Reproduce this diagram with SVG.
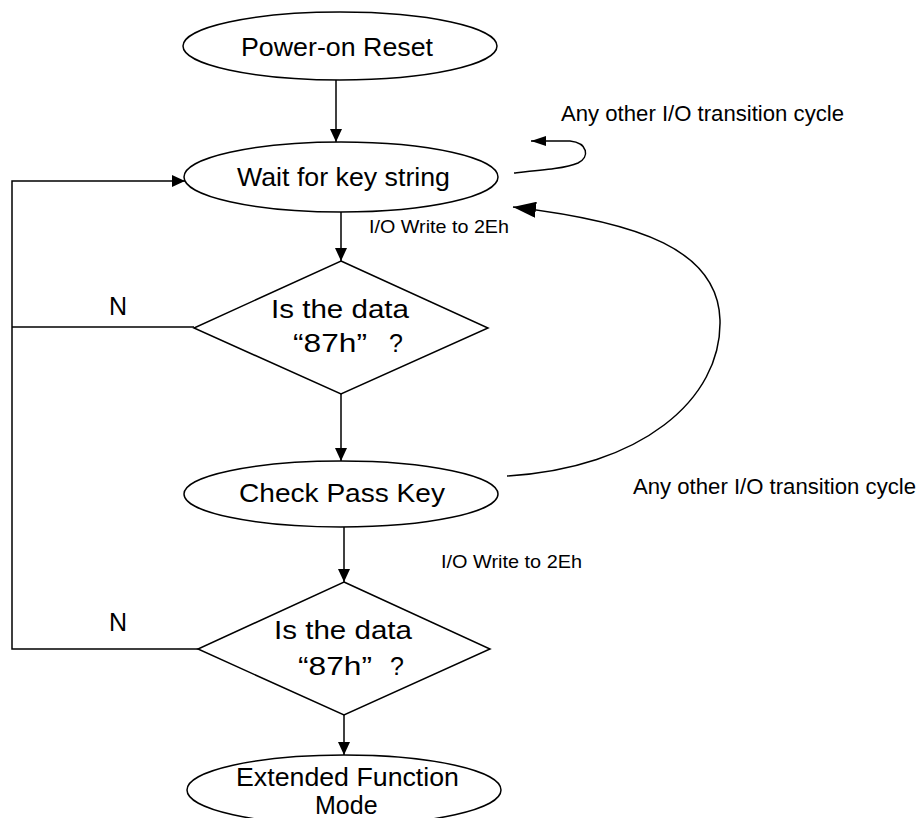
<svg xmlns="http://www.w3.org/2000/svg" width="922" height="818" viewBox="0 0 922 818">
<style>
.shape{fill:#fff;stroke:#000;stroke-width:1.5}
.line{fill:none;stroke:#000;stroke-width:1.5}
.lbl{font-family:"Liberation Sans",Arial,sans-serif;fill:#000}
.big{font-size:25px}
.small{font-size:19px}
.mid{font-size:21.5px}
</style>
<defs>
<marker id="ah" markerUnits="userSpaceOnUse" markerWidth="14" markerHeight="12" refX="13" refY="6" orient="auto"><path d="M0,0 L13,6 L0,12 z" fill="#000"/></marker>
<marker id="ahBig" markerUnits="userSpaceOnUse" markerWidth="24" markerHeight="16" refX="23" refY="8" orient="auto"><path d="M0,0 L23,8 L0,16 z" fill="#000"/></marker>
<marker id="ahSmall" markerUnits="userSpaceOnUse" markerWidth="16" markerHeight="10" refX="15" refY="5" orient="auto"><path d="M0,0 L15,5 L0,10 z" fill="#000"/></marker>
</defs>
<rect width="922" height="818" fill="#fff"/>
<g id="connectors">
<line class="line" x1="336" y1="80" x2="336" y2="142" marker-end="url(#ah)"/>
<line class="line" x1="341" y1="212" x2="341" y2="261" marker-end="url(#ah)"/>
<line class="line" x1="341" y1="394" x2="341" y2="461" marker-end="url(#ah)"/>
<line class="line" x1="344" y1="527" x2="344" y2="582" marker-end="url(#ah)"/>
<line class="line" x1="344" y1="715" x2="344" y2="755" marker-end="url(#ah)"/>
<polyline class="line" points="194,327 12,327"/>
<polyline class="line" points="198,649 12,649 12,181 185,181" marker-end="url(#ah)"/>
<path class="line" d="M507,476 C640,468 722,400 720,320 C718,250 640,222 513,207" marker-end="url(#ahBig)"/>
<path class="line" d="M514,173 C545,170 567,168 578,163 C590,157 588,143 570,141 L531,141" marker-end="url(#ahSmall)"/>
</g>
<g id="power-on-reset">
<ellipse class="shape" cx="340" cy="46" rx="157" ry="34"/>
<text class="lbl big" x="241" y="56" textLength="192" lengthAdjust="spacingAndGlyphs">Power-on Reset</text>
</g>
<g id="wait-key">
<ellipse class="shape" cx="341" cy="177" rx="157" ry="35"/>
<text class="lbl big" x="237" y="186" textLength="213" lengthAdjust="spacingAndGlyphs">Wait for key string</text>
</g>
<g id="decision-1">
<polygon class="shape" points="341,261 488,328 341,394 194,328"/>
<text class="lbl big" x="271" y="318" textLength="138" lengthAdjust="spacingAndGlyphs">Is the data</text>
<text class="lbl big" x="293" y="352" textLength="74" lengthAdjust="spacingAndGlyphs">“87h”</text>
<text class="lbl big" x="389" y="352">?</text>
</g>
<g id="check-pass-key">
<ellipse class="shape" cx="341" cy="494" rx="157" ry="33"/>
<text class="lbl big" x="239" y="502" textLength="206" lengthAdjust="spacingAndGlyphs">Check Pass Key</text>
</g>
<g id="decision-2">
<polygon class="shape" points="344,582 490,649 344,715 198,649"/>
<text class="lbl big" x="274" y="639" textLength="138" lengthAdjust="spacingAndGlyphs">Is the data</text>
<text class="lbl big" x="298" y="675" textLength="74" lengthAdjust="spacingAndGlyphs">“87h”</text>
<text class="lbl big" x="390" y="675">?</text>
</g>
<g id="extended-mode">
<ellipse class="shape" cx="344" cy="790" rx="157" ry="35"/>
<text class="lbl big" x="236" y="786" textLength="223" lengthAdjust="spacingAndGlyphs">Extended Function</text>
<text class="lbl big" x="315" y="814">Mode</text>
</g>
<g id="labels">
<text class="lbl big" x="109" y="315">N</text>
<text class="lbl big" x="109" y="631">N</text>
<text class="lbl small" x="369" y="233" textLength="140" lengthAdjust="spacingAndGlyphs">I/O Write to 2Eh</text>
<text class="lbl small" x="441" y="568" textLength="141" lengthAdjust="spacingAndGlyphs">I/O Write to 2Eh</text>
<text class="lbl mid" x="561" y="121" textLength="283" lengthAdjust="spacingAndGlyphs">Any other I/O transition cycle</text>
<text class="lbl mid" x="633" y="494" textLength="283" lengthAdjust="spacingAndGlyphs">Any other I/O transition cycle</text>
</g>
</svg>
